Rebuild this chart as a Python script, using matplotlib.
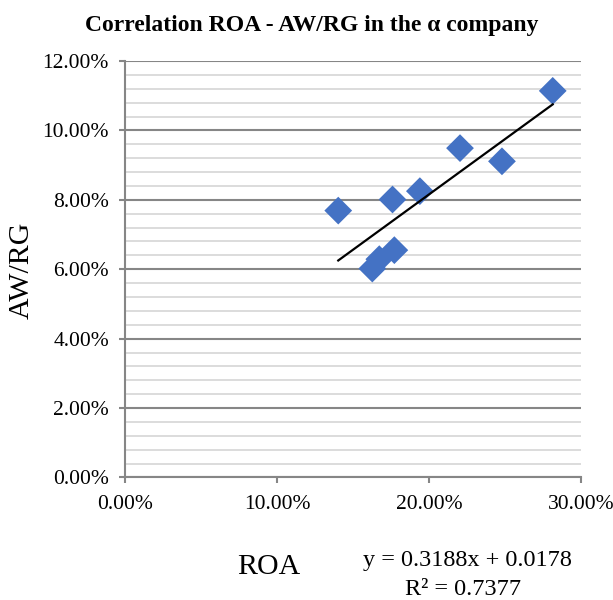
import numpy as np
import matplotlib
matplotlib.use("Agg")
import matplotlib.pyplot as plt
from matplotlib.ticker import MultipleLocator, PercentFormatter

# data (fractions)
roa = [0.1403, 0.1760, 0.1940, 0.2204, 0.2480, 0.2814, 0.1772, 0.1673, 0.1627]
aw_rg = [0.0769, 0.0801, 0.0825, 0.0949, 0.0911, 0.1114, 0.0655, 0.0629, 0.0602]

# linear trendline as printed on the chart
slope = 0.3188
intercept = 0.0178
r2 = 0.7377

x_ticks = [0.0, 0.1, 0.2, 0.3]
y_ticks = [0.0, 0.02, 0.04, 0.06, 0.08, 0.10, 0.12]

plt.rcParams['font.family'] = ['Liberation Serif', 'DejaVu Serif']

fig = plt.figure(figsize=(6.13, 6.0), dpi=100)
ax = fig.add_axes([0.2039, 0.2042, 0.7439, 0.6941])

ax.set_xlim(0, 0.3)
ax.set_ylim(0, 0.12)

ax.yaxis.set_minor_locator(MultipleLocator(0.004))
ax.set_yticks(y_ticks)
ax.set_xticks(x_ticks)
ax.yaxis.set_major_formatter(PercentFormatter(1.0, decimals=2))
ax.xaxis.set_major_formatter(PercentFormatter(1.0, decimals=2))

ax.grid(which='minor', axis='y', color='#d9d9d9', lw=1.3, zorder=0)
ax.grid(which='major', axis='y', color='#868686', lw=1.5, zorder=0)

for s in ['top', 'right']:
    ax.spines[s].set_visible(False)
for s in ['left', 'bottom']:
    ax.spines[s].set_color('#868686')
    ax.spines[s].set_linewidth(1.5)

ax.tick_params(which='major', direction='out', length=4.5, width=1.5, color='#868686',
               labelsize=15.5, pad=7)
ax.tick_params(which='minor', length=0)
ax.tick_params(axis='x', pad=8)

ax.scatter(roa, aw_rg, marker='D', s=200, color='#4472c4', zorder=3, edgecolors='none')

xs = np.array([min(roa), max(roa)])
ax.plot(xs, slope * xs + intercept, color='black', lw=1.6, zorder=4)

fig.text(0.509, 0.9575, 'Correlation ROA - AW/RG in the \u03b1 company',
         ha='center', va='center', fontsize=17, fontweight='bold')
fig.text(0.036, 0.55, 'AW/RG', rotation=90, ha='center', va='center', fontsize=21.5)
fig.text(0.439, 0.055, 'ROA', ha='center', va='center', fontsize=21.5)
fig.text(0.763, 0.066, 'y = 0.3188x + 0.0178', ha='center', va='center', fontsize=17.5)
fig.text(0.755, 0.018, 'R\u00b2 = 0.7377', ha='center', va='center', fontsize=17.5)

fig.savefig('out.png', dpi=100)
